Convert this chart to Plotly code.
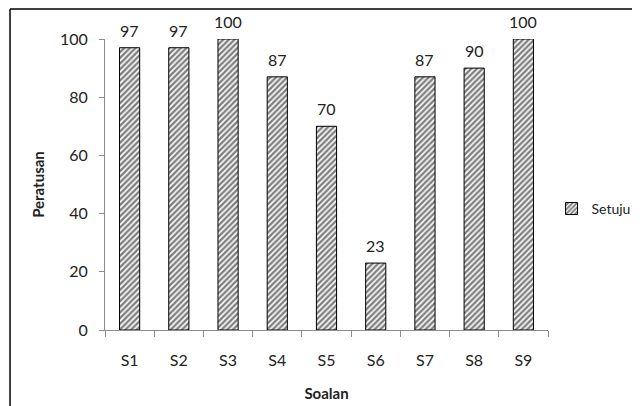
import plotly.graph_objects as go

categories = ["S1", "S2", "S3", "S4", "S5", "S6", "S7", "S8", "S9"]
setuju = [97, 97, 100, 87, 70, 23, 87, 90, 100]
y_ticks = [0, 20, 40, 60, 80, 100]

FONT = "Lato"

fig = go.Figure()
fig.add_trace(go.Bar(
    x=categories, y=setuju, name="Setuju",
    cliponaxis=False,
    marker=dict(color="white",
                line=dict(color="black", width=1),
                pattern=dict(shape="/", fgcolor="black", bgcolor="white",
                             size=4, solidity=0.6, fillmode="overlay")),
))

for c, v in zip(categories, setuju):
    fig.add_annotation(x=c, y=v, text=str(v), showarrow=False,
                       xref="x", yref="y", yanchor="bottom", yshift=6,
                       font=dict(family=FONT, size=16, color="#222"))

fig.update_layout(
    width=632, height=398,
    margin=dict(l=97, r=92, t=31, b=76, autoexpand=False),
    paper_bgcolor="white", plot_bgcolor="white",
    bargap=0.59,
    font=dict(family=FONT, size=15, color="#222"),
    showlegend=True,
    legend=dict(x=1.008, y=0.416, xanchor="left", yanchor="middle",
                font=dict(family=FONT, size=14, color="#222"),
                itemwidth=30, bgcolor="rgba(0,0,0,0)"),
    xaxis=dict(
        title=dict(text="<b>Soalan</b>", standoff=20, font=dict(size=15)),
        automargin=False,
        showline=True, linecolor="#8c8c8c", linewidth=1,
        ticks="outside", tickson="boundaries", ticklen=6, tickcolor="#8c8c8c",
        showgrid=False, tickfont=dict(size=16), ticklabelstandoff=16,
    ),
    yaxis=dict(
        title=dict(text="<b>Peratusan</b>", standoff=11, font=dict(size=15)),
        automargin=False,
        range=[0, 100], tickvals=y_ticks,
        showline=True, linecolor="#8c8c8c", linewidth=1,
        ticks="outside", ticklen=5, tickcolor="#8c8c8c",
        showgrid=False, zeroline=False, tickfont=dict(size=16),
        ticklabelstandoff=8,
    ),
    shapes=[
        dict(type="line", xref="paper", yref="paper",
             x0=-0.2144, x1=1.3, y0=1.1031, y1=1.1031,
             line=dict(color="black", width=1.5)),
        dict(type="line", xref="paper", yref="paper",
             x0=-0.2144, x1=-0.2144, y0=1.1031, y1=-0.3,
             line=dict(color="black", width=1.5)),
    ],
)

fig.write_html("out.html")
